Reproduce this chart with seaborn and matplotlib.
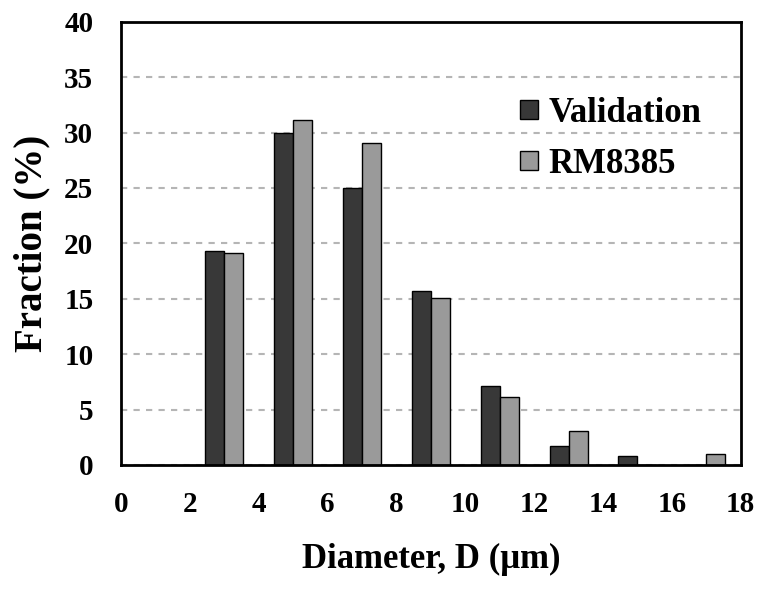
import matplotlib
matplotlib.use("Agg")
import matplotlib.pyplot as plt
import seaborn as sns
import pandas as pd

diameters = [3, 5, 7, 9, 11, 13, 15, 17]
validation = [19.3, 30.0, 25.0, 15.7, 7.1, 1.7, 0.8, 0.0]
rm8385 = [19.1, 31.1, 29.1, 15.1, 6.1, 3.1, 0.0, 1.0]
series_names = ["Validation", "RM8385"]
x_ticks = [0, 2, 4, 6, 8, 10, 12, 14, 16, 18]
y_ticks = [0, 5, 10, 15, 20, 25, 30, 35, 40]

df = pd.DataFrame({
    "D": diameters * 2,
    "Fraction": validation + rm8385,
    "Series": [series_names[0]] * len(diameters) + [series_names[1]] * len(diameters),
})

sns.set_theme(style="white")
plt.rcParams["font.family"] = ["Liberation Serif", "DejaVu Serif"]
plt.rcParams["font.weight"] = "bold"
plt.rcParams["text.color"] = "black"
plt.rcParams["axes.labelcolor"] = "black"

fig = plt.figure(figsize=(7.62, 5.90), dpi=100)
ax = fig.add_axes([0.159, 0.212, 0.813, 0.751])

palette = {"Validation": "#383838", "RM8385": "#9a9a9a"}
sns.barplot(data=df, x="D", y="Fraction", hue="Series", native_scale=True,
            palette=palette, width=0.55, dodge=True, edgecolor="black",
            linewidth=1.0, saturation=1, ax=ax, errorbar=None)

ax.set_xlim(0, 18)
ax.set_ylim(0, 40)
ax.set_xticks(x_ticks)
ax.set_yticks(y_ticks)
ax.set_xticklabels([str(t) for t in x_ticks], fontsize=21, fontweight="bold", color="black")
ax.set_yticklabels([str(t) for t in y_ticks], fontsize=21, fontweight="bold", color="black")
ax.tick_params(axis="x", direction="in", length=6, width=1.5, pad=19, colors="black")
ax.tick_params(axis="y", direction="in", length=7, width=1.5, pad=20, colors="black")

ax.yaxis.grid(True, linestyle=(0, (3, 3)), color="#b5b5b5", linewidth=1.5)
ax.xaxis.grid(False)
ax.set_axisbelow(True)

for s in ax.spines.values():
    s.set_visible(True)
    s.set_color("black")
    s.set_linewidth(2)

ax.set_xlabel("Diameter, D (\u03bcm)", fontsize=25, fontweight="bold", labelpad=18, color="black")
ax.set_ylabel("Fraction (%)", fontsize=28, fontweight="bold", labelpad=10, color="black")

handles, labels = ax.get_legend_handles_labels()
ax.legend(handles, labels, loc="upper left", bbox_to_anchor=(0.644, 0.831),
          frameon=False, handlelength=0.52, handleheight=0.46,
          handletextpad=0.3, labelspacing=0.53, borderpad=0, borderaxespad=0,
          prop={"weight": "bold", "size": 25})

fig.savefig("out.png", dpi=100)
